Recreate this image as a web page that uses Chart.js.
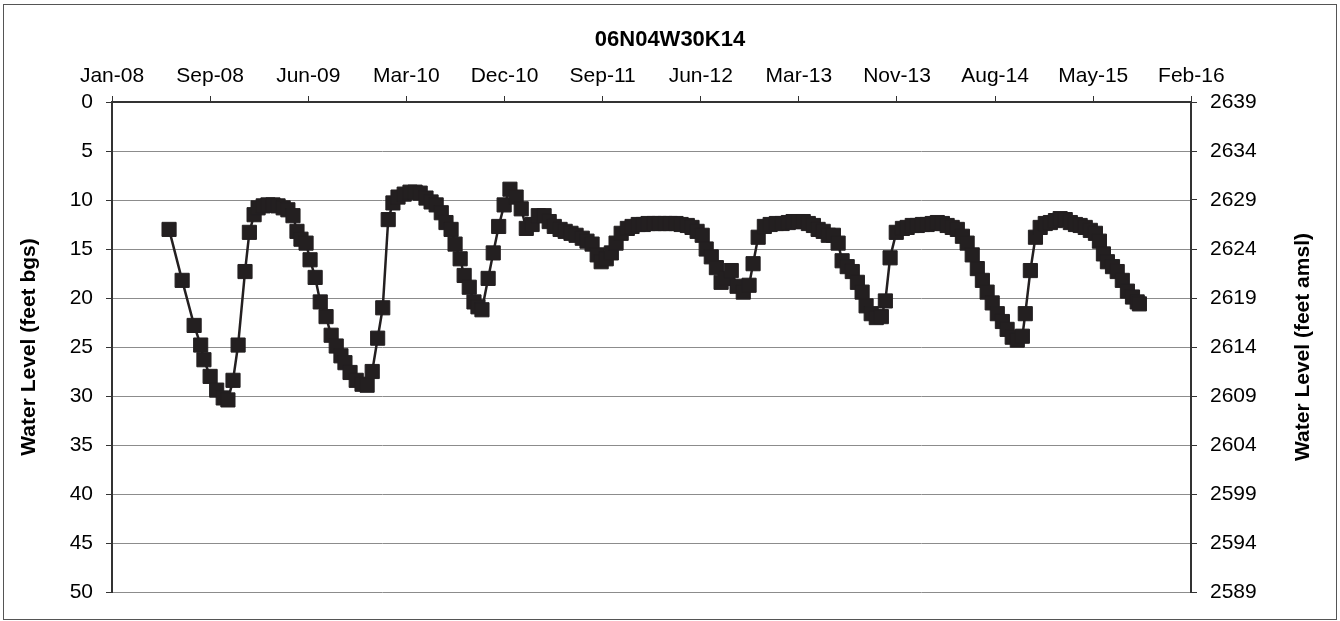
<!DOCTYPE html>
<html>
<head>
<meta charset="utf-8">
<script src="https://cdn.jsdelivr.net/npm/chart.js@4.4.1/dist/chart.umd.min.js"></script>
<style>
  html, body { margin: 0; padding: 0; background: #ffffff; }
  #wrap { width: 1340px; height: 621px; position: relative; }
  canvas { display: block; }
</style>
</head>
<body>
<div id="wrap"><canvas id="c" width="1340" height="621" style="width:1340px;height:621px"></canvas></div>
<script>
// ---- Data ----
const chartTitle = '06N04W30K14';
const leftAxisTitle = 'Water Level (feet bgs)';
const rightAxisTitle = 'Water Level (feet amsl)';

const sampleDates = [
  '2008-06-06','2008-07-12','2008-08-14','2008-09-01','2008-09-10','2008-09-27','2008-10-15','2008-11-02','2008-11-15','2008-11-29','2008-12-13',
  '2009-01-01','2009-01-13','2009-01-26','2009-02-06','2009-02-20','2009-03-05','2009-03-19','2009-04-02','2009-04-16','2009-04-29','2009-05-13','2009-05-24',
  '2009-06-04','2009-06-18','2009-06-29','2009-07-13','2009-07-27','2009-08-12','2009-08-26','2009-09-09','2009-09-22','2009-10-03','2009-10-17','2009-11-03',
  '2009-11-19','2009-12-03','2009-12-17',
  '2010-01-01','2010-01-15','2010-01-30','2010-02-12','2010-02-26','2010-03-15','2010-03-31','2010-04-14','2010-04-28','2010-05-14','2010-05-28','2010-06-11',
  '2010-06-25','2010-07-08','2010-07-22','2010-08-02','2010-08-16','2010-08-27','2010-09-10','2010-09-23','2010-10-04','2010-10-15','2010-11-01','2010-11-15',
  '2010-11-30','2010-12-15','2010-12-31',
  '2011-01-17','2011-01-31','2011-02-14','2011-03-02','2011-03-19','2011-04-04','2011-04-18','2011-05-02','2011-05-18','2011-06-01','2011-06-17','2011-07-01',
  '2011-07-18','2011-07-31','2011-08-14','2011-08-28','2011-09-08','2011-09-22','2011-10-06','2011-10-19','2011-11-02','2011-11-19','2011-12-02','2011-12-19',
  '2012-01-02','2012-01-15','2012-02-01','2012-02-15','2012-03-02','2012-03-16','2012-04-01','2012-04-15','2012-05-02','2012-05-15','2012-05-29','2012-06-12',
  '2012-06-23','2012-07-07','2012-07-21','2012-08-03','2012-08-17','2012-08-31','2012-09-16','2012-10-03','2012-10-19','2012-10-30','2012-11-13','2012-11-30',
  '2012-12-16',
  '2013-01-02','2013-01-18','2013-02-04','2013-02-17','2013-03-03','2013-03-17','2013-03-31','2013-04-14','2013-04-27','2013-05-11','2013-05-25','2013-06-08',
  '2013-06-21','2013-07-02','2013-07-16','2013-07-30','2013-08-13','2013-08-26','2013-09-06','2013-09-20','2013-10-04','2013-10-18','2013-10-29','2013-11-11',
  '2013-11-28','2013-12-15','2013-12-28',
  '2014-01-11','2014-01-25','2014-02-08','2014-02-21','2014-03-07','2014-03-21','2014-04-04','2014-04-17','2014-05-01','2014-05-15','2014-05-29','2014-06-11',
  '2014-06-25','2014-07-09','2014-07-23','2014-08-05','2014-08-19','2014-09-02','2014-09-16','2014-09-29','2014-10-13','2014-10-27','2014-11-10','2014-11-18',
  '2014-12-02','2014-12-16','2014-12-29',
  '2015-01-12','2015-01-26','2015-02-09','2015-02-22','2015-03-08','2015-03-22','2015-04-05','2015-04-18','2015-05-02','2015-05-16','2015-05-30','2015-06-10',
  '2015-06-21','2015-07-02','2015-07-16','2015-07-29','2015-08-12','2015-08-26','2015-09-09','2015-09-22','2015-09-28'
];

const depthBelowSurface = [
  13.0,18.2,22.8,24.8,26.3,28.0,29.4,30.2,30.4,28.4,24.8,
  17.3,13.3,11.5,10.8,10.6,10.5,10.5,10.6,10.8,11.0,11.6,13.2,
  14.0,14.4,16.1,17.9,20.4,21.9,23.8,24.9,25.9,26.6,27.6,28.4,
  28.8,28.9,27.5,
  24.1,21.0,12.0,10.3,9.7,9.4,9.2,9.2,9.3,9.8,10.2,10.5,
  11.3,12.3,13.0,14.5,16.0,17.7,18.9,20.4,20.9,21.2,18.0,15.4,
  12.7,10.5,8.9,
  9.7,10.9,12.9,12.5,11.6,11.6,12.2,12.7,13.0,13.2,13.4,13.6,
  13.9,14.2,14.5,15.6,16.3,16.0,15.4,14.4,13.4,12.9,12.7,12.5,
  12.5,12.4,12.4,12.4,12.4,12.4,12.4,12.5,12.6,12.8,13.2,13.6,
  15.0,15.8,16.9,18.4,18.0,17.2,18.8,19.4,18.7,16.5,13.8,12.7,
  12.5,
  12.4,12.4,12.3,12.2,12.2,12.2,12.4,12.6,13.0,13.2,13.6,13.6,
  14.4,16.2,16.8,17.3,18.4,19.4,20.8,21.6,22.0,21.9,20.3,15.9,
  13.3,12.9,12.8,
  12.6,12.6,12.5,12.5,12.4,12.3,12.4,12.6,12.8,13.0,13.7,14.4,
  15.6,17.0,18.2,19.4,20.5,21.6,22.4,23.2,24.0,24.3,23.9,21.6,
  17.2,13.8,12.8,
  12.4,12.3,12.1,11.9,12.0,12.3,12.5,12.6,12.8,13.1,13.4,14.2,
  15.5,16.3,16.8,17.3,18.2,19.3,19.9,20.4,20.6
];

const xAxisStart = '2008-01-01';
const xAxisEnd = '2016-02-17';
const xTickStepDays = 270;
const xTickLabels = ['Jan-08','Sep-08','Jun-09','Mar-10','Dec-10','Sep-11','Jun-12','Mar-13','Nov-13','Aug-14','May-15','Feb-16'];
const leftTickValues = [0,5,10,15,20,25,30,35,40,45,50];
const rightTickValues = [2639,2634,2629,2624,2619,2614,2609,2604,2599,2594,2589];

// ---- Helpers ----
const DAY = 86400000;
function dayOf(s) {
  const p = s.split('-').map(Number);
  return (Date.UTC(p[0], p[1] - 1, p[2]) - Date.UTC(2008, 0, 1)) / DAY;
}
const points = sampleDates.map((d, i) => ({ x: dayOf(d), y: depthBelowSurface[i] }));

const FONT = "'Liberation Sans', Arial, Helvetica, sans-serif";
const INK = '#231f20';
const AXIS = '#333333';
const GRID = '#8c8c8c';

const frameAndRightTitle = {
  id: 'frameAndRightTitle',
  afterDraw(chart) {
    const ctx = chart.ctx;
    ctx.save();
    ctx.strokeStyle = '#555555';
    ctx.lineWidth = 1;
    ctx.strokeRect(3.5, 4.5, 1333, 615);
    const ca = chart.chartArea;
    ctx.translate(1303, (ca.top + ca.bottom) / 2);
    ctx.rotate(-Math.PI / 2);
    ctx.fillStyle = '#000000';
    ctx.font = 'bold 21px ' + FONT;
    ctx.textAlign = 'center';
    ctx.textBaseline = 'middle';
    ctx.fillText(rightAxisTitle, 0, 0);
    ctx.restore();
  }
};

new Chart(document.getElementById('c'), {
  type: 'line',
  data: {
    datasets: [{
      data: points,
      borderColor: INK,
      backgroundColor: INK,
      borderWidth: 2.5,
      pointStyle: 'rect',
      pointRadius: 10,
      pointBorderWidth: 1,
      pointBackgroundColor: INK,
      pointBorderColor: INK,
      tension: 0,
      yAxisID: 'y'
    }]
  },
  options: {
    responsive: false,
    animation: false,
    devicePixelRatio: 1,
    layout: { padding: { top: 4, bottom: 29, left: 0, right: 0 } },
    plugins: {
      legend: { display: false },
      tooltip: { enabled: false },
      title: {
        display: true,
        text: chartTitle,
        color: '#000000',
        font: { family: FONT, size: 22, weight: 'bold' },
        padding: { top: 23, bottom: 0 }
      }
    },
    scales: {
      x: {
        type: 'linear',
        position: 'top',
        min: 0,
        max: dayOf(xAxisEnd) - dayOf(xAxisStart),
        afterBuildTicks: (s) => { s.ticks = xTickLabels.map((_, i) => ({ value: i * xTickStepDays })); },
        afterFit: (s) => { s.height = 48.6; },
        ticks: {
          color: '#000000',
          font: { family: FONT, size: 21 },
          padding: 7,
          maxRotation: 0,
          autoSkip: false,
          callback: (v, i) => xTickLabels[i]
        },
        grid: { drawOnChartArea: false, drawTicks: true, tickLength: 6, tickColor: AXIS, tickWidth: 1 },
        border: { display: true, color: AXIS, width: 2 }
      },
      y: {
        type: 'linear',
        position: 'left',
        reverse: true,
        min: 0,
        max: 50,
        afterBuildTicks: (s) => { s.ticks = leftTickValues.map(v => ({ value: v })); },
        afterFit: (s) => { s.width = 112; },
        ticks: {
          color: '#000000',
          font: { family: FONT, size: 21 },
          padding: 13,
          autoSkip: false,
          callback: (v) => String(v)
        },
        title: {
          display: true,
          text: leftAxisTitle,
          color: '#000000',
          font: { family: FONT, size: 21, weight: 'bold' },
          padding: { top: 17, bottom: 0 }
        },
        grid: { color: GRID, lineWidth: 1, drawTicks: true, tickLength: 6, tickColor: AXIS },
        border: { display: true, color: AXIS, width: 2 }
      },
      y2: {
        type: 'linear',
        position: 'right',
        min: 2589,
        max: 2639,
        afterBuildTicks: (s) => { s.ticks = rightTickValues.map(v => ({ value: v })); },
        afterFit: (s) => { s.width = 149; },
        ticks: {
          color: '#000000',
          font: { family: FONT, size: 21 },
          padding: 13,
          autoSkip: false,
          callback: (v) => String(v)
        },
        grid: { drawOnChartArea: false, drawTicks: true, tickLength: 6, tickColor: AXIS },
        border: { display: true, color: AXIS, width: 2 }
      }
    }
  },
  plugins: [frameAndRightTitle]
});
</script>
</body>
</html>
